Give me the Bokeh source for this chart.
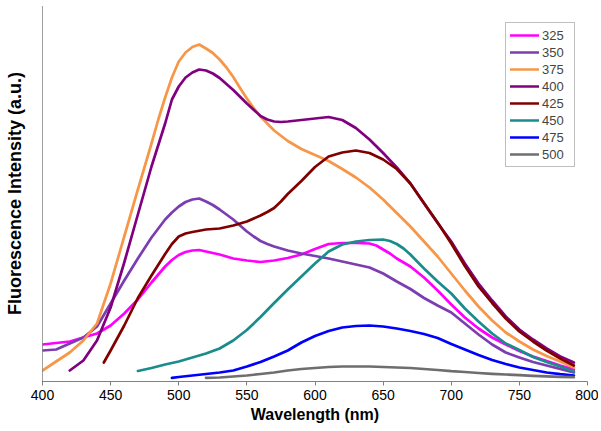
from bokeh.plotting import figure
from bokeh.models import Legend, LegendItem, Range1d, FixedTicker
from bokeh.embed import file_html
from bokeh.resources import INLINE

# Excitation wavelengths (legend)
excitation = ["325", "350", "375", "400", "425", "450", "475", "500"]
colors = ["#FF00FF", "#7B3DB0", "#F79646", "#800080", "#800000", "#1A8C8C", "#0000FF", "#6E6E6E"]

x_ticks = [400, 450, 500, 550, 600, 650, 700, 750, 800]

wl_325 = [400, 410, 420, 430, 440, 450, 460, 470, 480, 490, 495, 500, 505, 510, 515, 520, 530, 540,
          550, 560, 570, 580, 590, 600, 610, 620, 630, 640, 645, 650, 655, 660, 670, 680, 690, 700,
          710, 720, 730, 740, 750, 760, 770, 780, 790]
int_325 = [37, 38.5, 40, 44, 48, 56, 68, 82, 99, 115, 121.5, 126.5, 129.5, 131, 131.5, 130, 127, 123,
           121, 119.5, 121, 123.5, 127, 132.5, 137.5, 138.5, 138.5, 138, 136, 132, 128, 123, 115,
           104, 91, 77, 64, 53, 44, 37, 30.5, 25, 20.5, 16, 12]

wl_350 = [400, 410, 420, 430, 440, 450, 460, 470, 480, 490, 495, 500, 505, 510, 515, 520, 525, 530,
          540, 550, 555, 560, 565, 570, 580, 590, 600, 610, 620, 630, 640, 650, 660, 670, 680, 690,
          700, 710, 720, 730, 740, 750, 760, 770, 780, 790]
int_350 = [31, 32, 38, 44, 55, 78, 101, 123, 144, 162, 169, 175, 179.5, 182, 183, 180, 176.5, 172,
           162, 150, 145, 140.5, 137.5, 135, 131, 128, 125.5, 123, 120, 117, 114, 108, 100, 92.5,
           83.5, 76, 69, 58, 47, 37, 29, 24, 19.5, 16, 12.5, 9]

wl_375 = [400, 410, 420, 430, 440, 450, 460, 470, 480, 485, 490, 495, 500, 505, 510, 515, 520, 525,
          530, 535, 540, 545, 550, 555, 560, 570, 580, 590, 600, 610, 620, 630, 640, 650, 660, 670,
          680, 690, 700, 710, 720, 730, 740, 750, 760, 770, 780, 790]
int_375 = [11, 20, 29, 41, 58, 98, 145, 192, 238, 262, 284, 304, 320, 329, 334.5, 337, 333, 328.5,
           322, 314, 304.5, 293.5, 283, 273.5, 265, 251, 240.5, 232.5, 226.5, 220.5, 212.5, 204,
           194, 182, 168.5, 155, 140, 125, 108, 91, 75, 61, 49, 40, 32, 25.5, 20, 14]

wl_400 = [420, 430, 440, 450, 460, 470, 480, 490, 495, 500, 505, 510, 515, 520, 525, 530, 540, 550,
          560, 565, 570, 575, 580, 590, 600, 610, 620, 630, 640, 650, 660, 670, 680, 690, 700, 710,
          720, 730, 740, 750, 760, 770, 780, 790]
int_400 = [11, 21, 41, 74, 119, 167, 215, 258, 282, 295, 304, 309, 312, 311, 308, 303.5, 291.5, 278,
           265.5, 262, 260, 259.5, 260, 261.5, 263, 264.5, 261.5, 253.5, 242, 228.5, 214, 198, 178,
           158.5, 140, 118, 98, 81, 65, 52, 42, 33, 25, 19]

wl_425 = [445, 450, 460, 470, 480, 490, 495, 500, 505, 510, 520, 530, 540, 550, 560, 565, 570, 575,
          580, 590, 600, 610, 620, 630, 640, 650, 660, 670, 680, 690, 700, 710, 720, 730, 740, 750,
          760, 770, 780, 790]
int_425 = [19, 31, 56, 83.5, 106, 127.5, 137.5, 145, 148, 149.5, 152, 153, 156, 160, 166, 169.5,
           173.5, 180, 187.5, 200.5, 214.5, 225, 229, 231, 228.5, 222, 212.5, 198, 178.5, 159, 138,
           115.5, 95, 78.5, 63, 50, 40, 31, 23, 16]

wl_450 = [470, 480, 490, 500, 510, 520, 530, 540, 550, 560, 570, 580, 590, 600, 610, 620, 630, 640,
          650, 655, 660, 665, 670, 680, 690, 700, 710, 720, 730, 740, 750, 760, 770, 780, 790]
int_450 = [10.5, 13.5, 17, 20, 24, 28, 33, 41, 51.5, 64.5, 78.5, 92, 105, 118, 130, 137, 140, 141.5,
           142, 140.5, 137.5, 133, 127, 113, 100, 88, 73, 60, 48, 38, 31.5, 24.5, 19.5, 15, 10]

wl_475 = [495, 500, 510, 520, 530, 540, 550, 560, 570, 580, 590, 600, 610, 620, 630, 640, 650, 660,
          670, 680, 690, 700, 710, 720, 730, 740, 750, 760, 770, 780, 790]
int_475 = [3.7, 4.5, 6, 7.5, 9, 11, 15, 19.5, 25, 31, 39, 45.5, 50.5, 54, 55.5, 56, 55, 53, 50.5,
           47.5, 43.5, 37.5, 32, 26.5, 21.5, 17.5, 14, 11.5, 9, 7.3, 6]

wl_500 = [520, 530, 540, 550, 560, 570, 580, 590, 600, 610, 620, 630, 640, 650, 660, 670, 680, 690,
          700, 710, 720, 730, 740, 750, 760, 770, 780, 790]
int_500 = [3.7, 4, 5, 6, 7.5, 9, 11, 12.5, 13.5, 14.5, 15, 15, 15, 14.5, 14, 13.5, 12.5, 11.5, 10.3,
           9.5, 8.5, 7.7, 7, 6.3, 5.7, 5.2, 4.7, 4.3]

series = [(wl_325, int_325), (wl_350, int_350), (wl_375, int_375), (wl_400, int_400),
          (wl_425, int_425), (wl_450, int_450), (wl_475, int_475), (wl_500, int_500)]

FONT = "Liberation Sans"

p = figure(width=598, height=428, output_backend="svg", toolbar_location=None,
           x_range=Range1d(400, 800), y_range=Range1d(0, 376),
           min_border_left=42, min_border_right=11, min_border_top=5, min_border_bottom=47)
p.outline_line_color = None
p.grid.visible = False
p.background_fill_color = "white"

renderers = []
for (wl, vals), c in zip(series, colors):
    r = p.line(wl, vals, line_color=c, line_width=2.7, line_join="round", line_cap="round")
    renderers.append(r)

xa = p.xaxis[0]
xa.ticker = FixedTicker(ticks=x_ticks)
xa.axis_label = "Wavelength (nm)"
xa.axis_label_text_font = FONT
xa.axis_label_text_font_style = "bold"
xa.axis_label_text_font_size = "16px"
xa.axis_label_text_color = "black"
xa.axis_label_standoff = 3
xa.major_label_text_font = FONT
xa.major_label_text_font_size = "14px"
xa.major_label_text_color = "black"
xa.major_label_standoff = 4
xa.major_tick_out = 4
xa.major_tick_in = 0
xa.minor_tick_out = 0
xa.minor_tick_in = 0
xa.axis_line_color = "#808080"
xa.major_tick_line_color = "#808080"

ya = p.yaxis[0]
ya.ticker = FixedTicker(ticks=[])
ya.axis_label = "Fluorescence Intensity (a.u.)"
ya.axis_label_text_font = FONT
ya.axis_label_text_font_style = "bold"
ya.axis_label_text_font_size = "18px"
ya.axis_label_text_color = "black"
ya.axis_label_standoff = 18
ya.major_label_text_font_size = "0px"
ya.major_tick_out = 0
ya.major_tick_in = 0
ya.minor_tick_out = 0
ya.minor_tick_in = 0
ya.axis_line_color = "#404040"
ya.axis_line_dash = "1 1"

items = [LegendItem(label=lbl, renderers=[r]) for lbl, r in zip(excitation, renderers)]
legend = Legend(items=items, location=(463, 214), border_line_color="#808080", border_line_width=1,
                padding=4, spacing=1, glyph_width=29, glyph_height=16, label_height=16,
                label_width=28, label_standoff=3, label_text_font=FONT,
                label_text_font_size="13px", margin=0, background_fill_alpha=1.0)
p.add_layout(legend)

open("out.html", "w").write(file_html(p, INLINE))
